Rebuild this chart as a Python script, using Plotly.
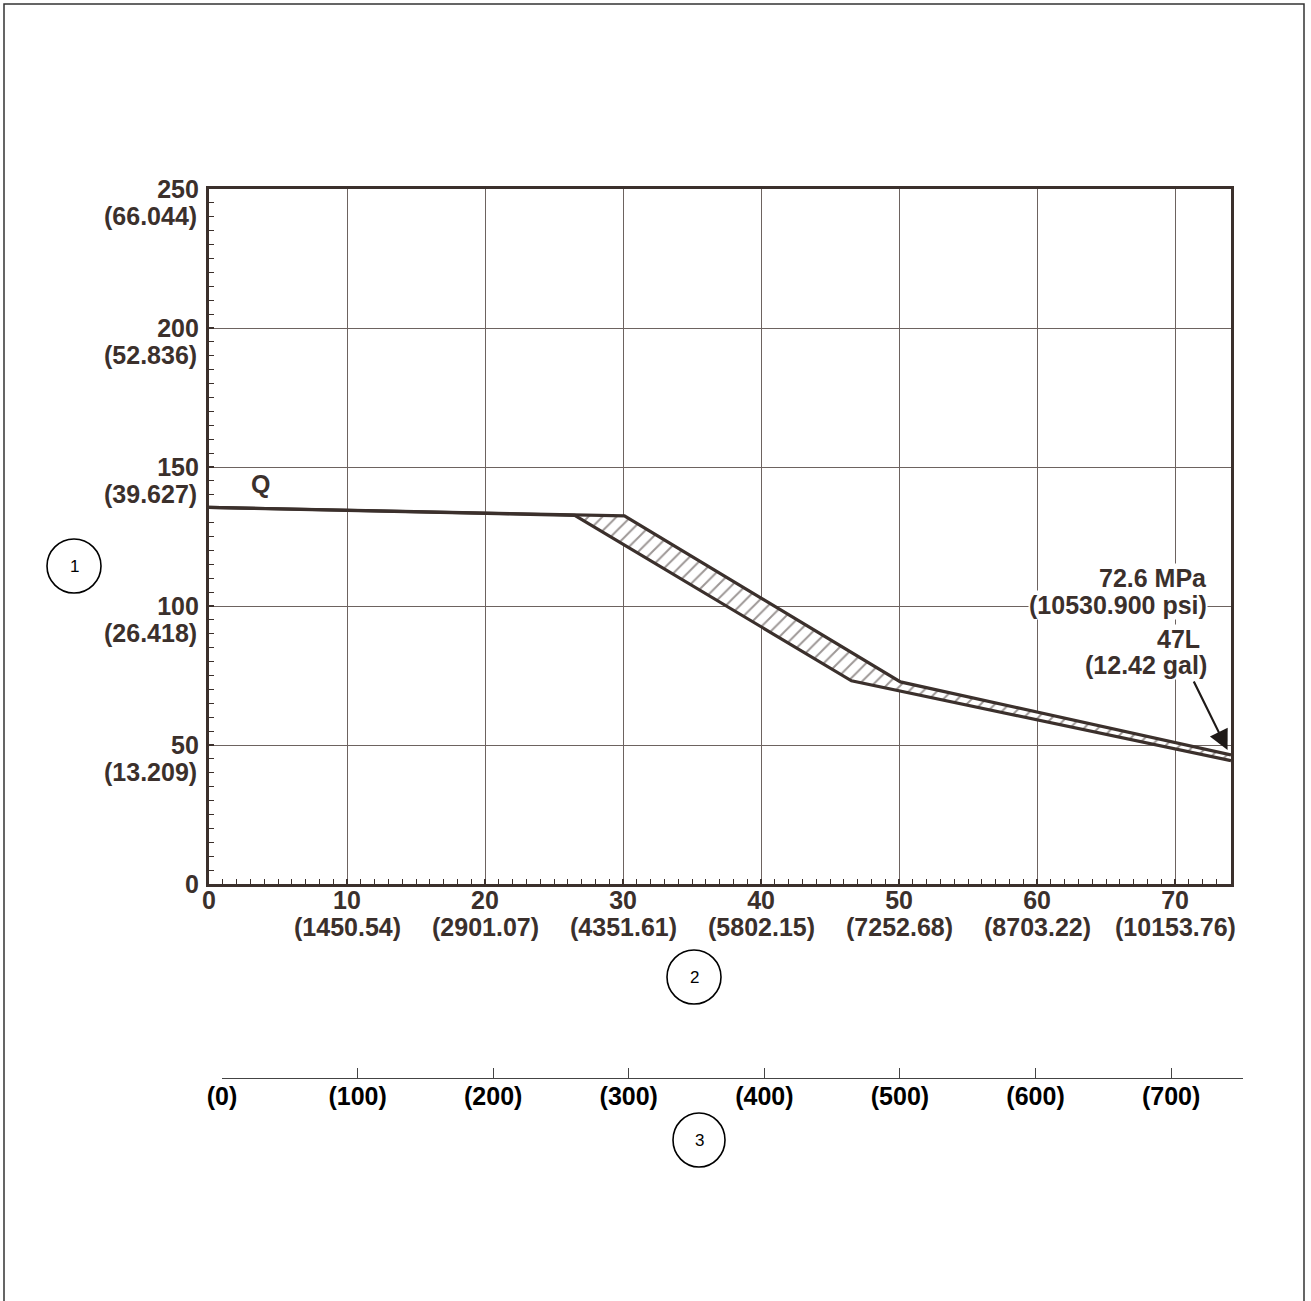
import plotly.graph_objects as go

# ---------------- data ----------------
x_ticks = [0, 10, 20, 30, 40, 50, 60, 70]
x_tick_main = ["0", "10", "20", "30", "40", "50", "60", "70"]
x_tick_sub = ["", "(1450.54)", "(2901.07)", "(4351.61)", "(5802.15)", "(7252.68)", "(8703.22)", "(10153.76)"]

y_ticks = [0, 50, 100, 150, 200, 250]
y_tick_main = ["0", "50", "100", "150", "200", "250"]
y_tick_sub = ["", "(13.209)", "(26.418)", "(39.627)", "(52.836)", "(66.044)"]

x2_ticks = [0, 100, 200, 300, 400, 500, 600, 700]
x2_tick_text = ["(0)", "(100)", "(200)", "(300)", "(400)", "(500)", "(600)", "(700)"]

upper_x = [0, 26.5, 30.1, 50.1, 74.05]
upper_y = [135.5, 132.6, 132.4, 72.7, 46.4]
lower_x = [0, 26.5, 46.55, 74.05]
lower_y = [135.5, 132.6, 73.1, 44.4]

# ---------------- layout helpers ----------------
W, H = 1311, 1301
ML, MR, MT, MB = 209, 68, 189, 223
PW = W - ML - MR
PH = H - MT - MB


def px(xp):
    return (xp - ML) / PW


def py(yp):
    return (H - MB - yp) / PH


INK = "#3b302c"
GRID = "#6d6360"
FONT = "Liberation Sans, Arial, sans-serif"
FS = 25

fig = go.Figure()

# hatched band between the two curves
band_x = upper_x[1:] + lower_x[::-1][:-1]
band_y = upper_y[1:] + lower_y[::-1][:-1]
fig.add_trace(go.Scatter(
    x=band_x, y=band_y, mode="lines", fill="toself",
    line=dict(width=0, color="rgba(0,0,0,0)"),
    fillcolor="white",
    fillpattern=dict(shape="/", size=10, solidity=0.2, fgcolor=INK, bgcolor="white"),
    hoverinfo="skip", showlegend=False,
))
fig.add_trace(go.Scatter(x=upper_x, y=upper_y, mode="lines",
                         line=dict(color=INK, width=3.2), hoverinfo="skip", showlegend=False))
fig.add_trace(go.Scatter(x=lower_x, y=lower_y, mode="lines",
                         line=dict(color=INK, width=3.2), hoverinfo="skip", showlegend=False))
# dummy trace for the secondary bottom axis
fig.add_trace(go.Scatter(x=[0], y=[0], xaxis="x2", yaxis="y2", mode="markers",
                         marker=dict(opacity=0), hoverinfo="skip", showlegend=False))

annotations = []
# second line of y tick labels
for v, s in zip(y_ticks, y_tick_sub):
    if s:
        annotations.append(dict(x=0, xref="paper", y=v, yref="y", text=f"<b>{s}</b>",
                                showarrow=False, xanchor="right", yanchor="middle",
                                xshift=-10, yshift=-27,
                                font=dict(family=FONT, size=FS, color=INK)))
# second line of x tick labels
for v, s in zip(x_ticks, x_tick_sub):
    if s:
        annotations.append(dict(x=v, xref="x", y=0, yref="y", text=f"<b>{s}</b>",
                                showarrow=False, xanchor="center", yanchor="middle",
                                yshift=-43,
                                font=dict(family=FONT, size=FS, color=INK)))

# Q label
annotations.append(dict(x=3.7, y=143.9, xref="x", yref="y", text="<b>Q</b>", showarrow=False,
                        font=dict(family=FONT, size=FS, color=INK)))

# right-side labels
right_labels = [("72.6 MPa", 578, 0), ("(10530.900 psi)", 605, 0), ("47L", 639, -7), ("(12.42 gal)", 665, 0)]
for txt, yp, xs in right_labels:
    annotations.append(dict(x=px(1208), y=py(yp), xref="paper", yref="paper", text=f"<b>{txt}</b>",
                            showarrow=False, xanchor="right", yanchor="middle", xshift=xs,
                            bgcolor="white", borderpad=0,
                            font=dict(family=FONT, size=FS, color=INK)))

# arrow
annotations.append(dict(x=73.8, y=48.2, xref="x", yref="y", ax=71.3, ay=73.4, axref="x", ayref="y",
                        text="", showarrow=True, arrowhead=2, arrowsize=1.8, arrowwidth=2.2,
                        arrowcolor="#1f1a18", standoff=0))

# circled numbers
circles = [("1", 74, 566, 27, 27), ("2", 694, 977, 27, 27), ("3", 699, 1140, 26, 27)]
shapes = []
for num, cx, cy, rx, ry in circles:
    shapes.append(dict(type="circle", xref="paper", yref="paper",
                       x0=px(cx - rx), x1=px(cx + rx), y0=py(cy + ry), y1=py(cy - ry),
                       line=dict(color="black", width=1.6), fillcolor="white", layer="above"))
    annotations.append(dict(x=px(cx), y=py(cy), xref="paper", yref="paper", text=num,
                            showarrow=False, xanchor="center", yanchor="middle",
                            font=dict(family=FONT, size=17, color="black")))

# outer border
shapes.append(dict(type="rect", xref="paper", yref="paper",
                   x0=px(4), x1=px(1304), y0=py(1306), y1=py(4),
                   line=dict(color="#333333", width=1.5), fillcolor="rgba(0,0,0,0)", layer="below"))

fig.update_layout(
    width=W, height=H,
    margin=dict(l=ML, r=MR, t=MT, b=MB, pad=0),
    paper_bgcolor="white", plot_bgcolor="white",
    showlegend=False,
    font=dict(family=FONT, color=INK),
    xaxis=dict(
        domain=[0, px(1231)], range=[0, 74.05], anchor="y",
        tickmode="array", tickvals=x_ticks, ticktext=[f"<b>{t}</b>" for t in x_tick_main],
        tickfont=dict(family=FONT, size=FS, color=INK),
        ticklabelstandoff=-8,
        showgrid=True, gridcolor=GRID, gridwidth=1.2,
        showline=True, linecolor=INK, linewidth=3.2, mirror=True,
        ticks="inside", ticklen=5, tickwidth=1.5, tickcolor=INK,
        minor=dict(tickmode="linear", tick0=0, dtick=1, ticks="inside", ticklen=5,
                   tickwidth=1.3, tickcolor=INK, showgrid=False),
        zeroline=False, fixedrange=True,
    ),
    yaxis=dict(
        domain=[py(884), 1], range=[0, 250], anchor="x",
        tickmode="array", tickvals=y_ticks, ticktext=[f"<b>{t}</b>" for t in y_tick_main],
        tickfont=dict(family=FONT, size=FS, color=INK),
        ticklabelstandoff=2,
        showgrid=True, gridcolor=GRID, gridwidth=1.2,
        showline=True, linecolor=INK, linewidth=3.2, mirror=True,
        ticks="inside", ticklen=5, tickwidth=1.5, tickcolor=INK,
        minor=dict(tickmode="linear", tick0=0, dtick=5, ticks="inside", ticklen=5,
                   tickwidth=1.3, tickcolor=INK, showgrid=False),
        zeroline=False, fixedrange=True,
    ),
    xaxis2=dict(
        domain=[px(222), 1.0], range=[0, 753], anchor="y2",
        tickmode="array", tickvals=x2_ticks, ticktext=[f"<b>{t}</b>" for t in x2_tick_text],
        tickfont=dict(family=FONT, size=FS, color="black"),
        ticklabelstandoff=-4,
        showgrid=False, zeroline=False,
        showline=True, linecolor="#444444", linewidth=1.3,
        ticks="inside", ticklen=10, tickwidth=1, tickcolor="#444444",
        fixedrange=True,
    ),
    yaxis2=dict(domain=[0, 0.005], range=[1, 2], visible=False, anchor="x2", fixedrange=True),
    annotations=annotations,
    shapes=shapes,
)

fig.write_html("out.html", config={"displayModeBar": False},
               post_script="document.body.style.margin='0';")
